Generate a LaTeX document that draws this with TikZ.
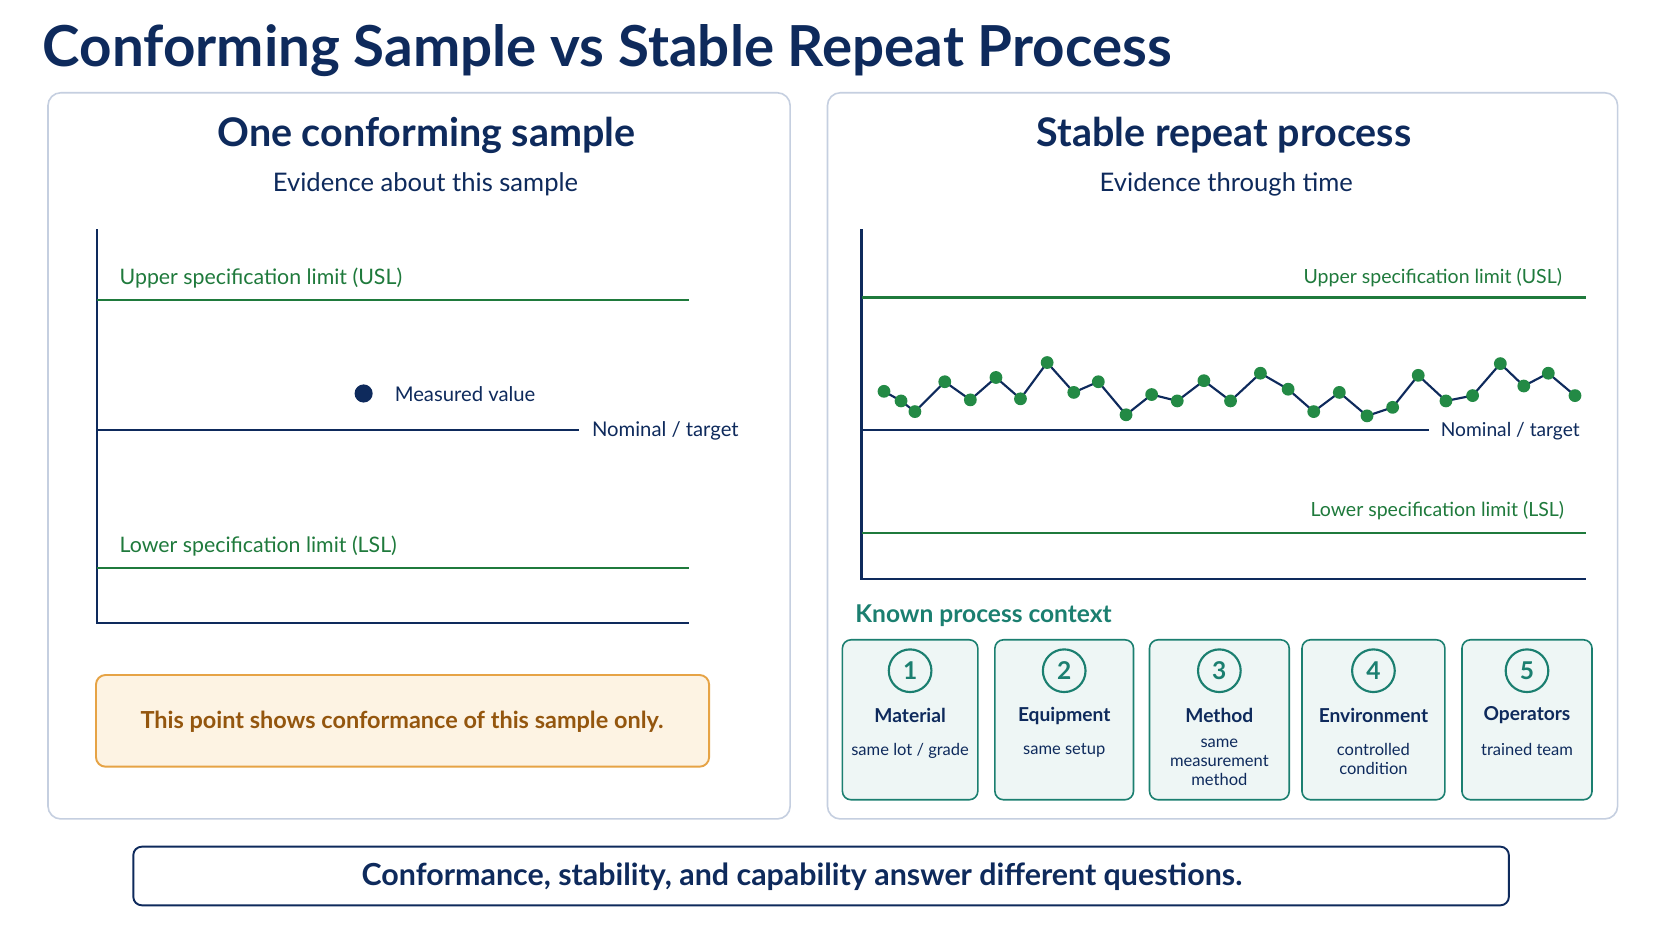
\documentclass[tikz,border=0pt]{standalone}
\usepackage{fontspec}
\setmainfont{Lato}
\begin{document}
\definecolor{navy}{HTML}{0E2A5C}
\definecolor{grn}{HTML}{1F7A3C}
\definecolor{dotg}{HTML}{238A45}
\definecolor{teal}{HTML}{1B7F70}
\definecolor{tfill}{HTML}{EEF6F5}
\definecolor{pbord}{HTML}{C5CFE0}
\definecolor{obord}{HTML}{E6A345}
\definecolor{ofill}{HTML}{FDF3E3}
\definecolor{otext}{HTML}{94560E}
\begin{tikzpicture}[x=1pt,y=-1pt,
  panel/.style={draw=pbord,line width=1.5pt,rounded corners=12pt,fill=white},
  axis/.style={navy,line width=2.2pt},
  spec/.style={grn,line width=2pt},
  nom/.style={navy,line width=2pt},
  speclab/.style={text=grn,font=\fontsize{20}{24}\selectfont,inner sep=0},
  rspeclab/.style={text=grn,font=\fontsize{18.3}{22}\selectfont,inner sep=0},
  nomlab/.style={text=navy,font=\fontsize{19}{22}\selectfont,inner sep=0,anchor=west},
  ptitle/.style={text=navy,font=\bfseries\fontsize{37}{44}\selectfont},
  psub/.style={text=navy,font=\fontsize{24}{28}\selectfont},
  cbox/.style={draw=teal,line width=1.5pt,fill=tfill,rounded corners=8pt},
  num/.style={circle,draw=teal,line width=2pt,minimum size=40pt,inner sep=0,text=teal,font=\bfseries\fontsize{23}{26}\selectfont},
  ctitle/.style={text=navy,font=\bfseries\fontsize{18}{21}\selectfont},
  cdesc/.style={text=navy,font=\fontsize{15.5}{18}\selectfont,align=center},
  pt/.style={circle,fill=dotg,inner sep=0,minimum size=12pt}]
\useasboundingbox (0,0) rectangle (1568,882);
\fill[white] (0,0) rectangle (1568,882);
\node[anchor=base west,inner sep=0,text=navy,font=\bfseries\fontsize{53}{60}\selectfont] (title) at (40,62) {Conforming Sample vs Stable Repeat Process};
% panels
\draw[panel] (45,87) rectangle (741,768);
\draw[panel] (776,87) rectangle (1517,768);
% left
\node[ptitle] (lt) at (400,127) {One conforming sample};
\node[psub] (ls) at (399,173) {Evidence about this sample};
\draw[axis] (91,215) -- (91,584) -- (646,584);
\draw[spec] (91,281) -- (646,281);
\node[speclab,anchor=west] (lusl) at (112,261) {Upper specification limit (USL)};
\draw[nom] (91,403) -- (543,403);
\node[nomlab] (lnom) at (555,404) {Nominal / target};
\draw[spec] (91,533) -- (646,533);
\node[speclab,anchor=west] (llsl) at (112,512) {Lower specification limit (LSL)};
\node[circle,fill=navy,minimum size=17pt,inner sep=0] (mv) at (341,369) {};
\node[nomlab] (mvl) at (370,370) {Measured value};
\draw[draw=obord,fill=ofill,line width=1.8pt,rounded corners=9pt] (90,633) rectangle (665,719);
\node[text=otext,font=\bfseries\fontsize{22}{26}\selectfont] (note) at (377,677) {This point shows conformance of this sample only.};
% right
\node[ptitle] (rt) at (1148,127) {Stable repeat process};
\node[psub] (rs) at (1150,173) {Evidence through time};
\draw[axis] (808,215) -- (808,543) -- (1487,543);
\draw[spec] (808,279) -- (1487,279);
\node[rspeclab,anchor=east] (rusl) at (1465,260) {Upper specification limit (USL)};
\draw[nom] (808,403) -- (1340,403);
\node[nomlab,font=\fontsize{18}{22}\selectfont] (rnom) at (1351,404) {Nominal / target};
\draw[spec] (808,500) -- (1487,500);
\node[rspeclab,anchor=east] (rlsl) at (1467,479) {Lower specification limit (LSL)};
\foreach \x/\y [count=\i] in {829/367,845/376,858/386,886/358,910/375,934/354,957/374,982/340,1007/368,1030/358,1056/389,1080/370,1104/376,1129/357,1154/376,1182/350,1208/365,1232/386,1256/368,1282/390,1306/382,1330/352,1356/376,1381/371,1407/341,1429/362,1452/350,1477/371}
  {\coordinate (p\i) at (\x,\y);}
\draw[navy,line width=2pt,line join=round] (p1) \foreach \i in {2,...,28}{ -- (p\i)};
\foreach \i in {1,...,28}{\node[pt] (d\i) at (p\i) {};}
\node[anchor=west,inner sep=0,text=teal,font=\bfseries\fontsize{23}{27}\selectfont] (kpc) at (802,577) {Known process context};
\foreach \xa/\xb/\n/\t [count=\i] in {790/917/1/Material,933/1063/2/Equipment,1078/1209/3/Method,1221/1355/4/Environment,1371/1493/5/Operators}{
  \draw[cbox] (\xa,600) rectangle (\xb,750);
  \node[num] (n\i) at ({(\xa+\xb)/2},629) {\n};
  \node[ctitle] (ct\i) at ({(\xa+\xb)/2},671) {\t};
}
\node[cdesc] (cd1) at (853.5,704) {same lot / grade};
\node[cdesc] (cd2) at (998,704) {same setup};
\node[cdesc,text width=120pt,font=\fontsize{15.5}{18}\selectfont] (cd3) at (1143.5,715) {same\\measurement\\method};
\node[cdesc,font=\fontsize{15.5}{18}\selectfont] (cd4) at (1288,712) {controlled\\condition};
\node[cdesc] (cd5) at (1432,703) {trained team};
% bottom
\draw[draw=navy,line width=1.8pt,rounded corners=8pt] (125,794) rectangle (1415,849);
\node[text=navy,font=\bfseries\fontsize{28.5}{33}\selectfont] (bottom) at (752,822) {Conformance, stability, and capability answer different questions.};
\end{tikzpicture}
\end{document}
